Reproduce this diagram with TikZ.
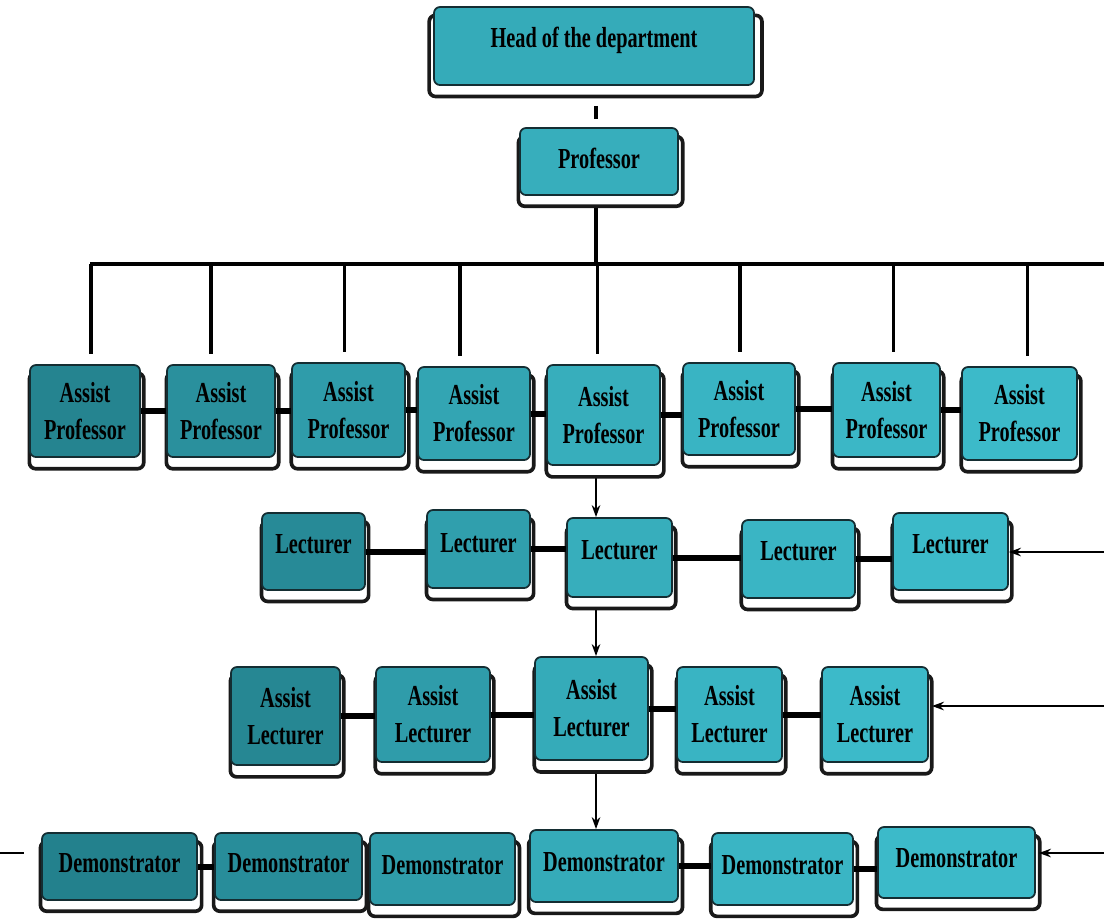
\documentclass[tikz,border=0pt]{standalone}
\usepackage{fontspec}
\newfontfamily\boxfont[FakeStretch=0.7]{Liberation Serif}
\usetikzlibrary{shadows,backgrounds,calc,arrows.meta}
\definecolor{tdark}{RGB}{34,126,138}
\definecolor{tlight}{RGB}{60,186,201}
\definecolor{edge}{RGB}{20,45,50}
\tikzset{
  orgbox/.style={draw=edge, line width=1pt, rounded corners=0.12cm, fill=tlight!#1!tdark,
    align=center, inner sep=0pt, text=black,
    font=\boxfont\bfseries\fontsize{16.5}{21}\selectfont,
    drop shadow={shadow xshift=0.03cm, shadow yshift=-0.19cm, shadow scale=1.04,
      fill=white, draw=black!90, line width=2pt, opacity=1}},
  link/.style={line width=3.4pt, black},
  drop/.style={line width=2pt, black},
  bus/.style={line width=2.8pt, black},
  arr/.style={line width=1.1pt, black, -{Stealth[length=0.24cm,width=0.17cm]}},
}
\newcommand\orgbox[7]{\node[orgbox=#6, minimum width={(#4-#2)*0.02cm}, minimum height={(#5-#3)*0.02cm}]
  (#1) at ({(#2+#4)/2},{(#3+#5)/2}) {#7};}
\newcommand\liftby[2]{\raisebox{#1}{#2}}
\begin{document}
\begin{tikzpicture}[x=0.02cm, y=-0.02cm]
\useasboundingbox (0,0) rectangle (1104,921);
% top
\orgbox{head}{434}{7}{754}{85}{75}{\liftby{0.34cm}{Head of the department}}
\orgbox{prof}{520}{128}{678}{195}{80}{\liftby{0.14cm}{Professor}}
% assistant professors
\orgbox{AP1}{30}{365}{140}{457}{10}{Assist\\Professor}
\orgbox{AP2}{167}{365}{275}{457}{30}{Assist\\Professor}
\orgbox{AP3}{292}{363}{405}{457}{50}{Assist\\Professor}
\orgbox{AP4}{418}{367}{530}{460}{65}{Assist\\Professor}
\orgbox{AP5}{547}{365}{660}{465}{80}{Assist\\Professor}
\orgbox{AP6}{683}{363}{795}{455}{90}{Assist\\Professor}
\orgbox{AP7}{833}{363}{940}{457}{95}{Assist\\Professor}
\orgbox{AP8}{962}{367}{1077}{460}{100}{Assist\\Professor}
% lecturers
\orgbox{L1}{262}{513}{365}{590}{20}{\liftby{0.32cm}{Lecturer}}
\orgbox{L2}{427}{510}{530}{588}{55}{\liftby{0.26cm}{Lecturer}}
\orgbox{L3}{567}{518}{672}{597}{80}{\liftby{0.3cm}{Lecturer}}
\orgbox{L4}{742}{520}{855}{598}{92}{\liftby{0.34cm}{Lecturer}}
\orgbox{L5}{893}{513}{1008}{590}{100}{\liftby{0.32cm}{Lecturer}}
% assistant lecturers
\orgbox{AL1}{231}{667}{340}{765}{15}{Assist\\Lecturer}
\orgbox{AL2}{376}{667}{490}{762}{50}{Assist\\Lecturer}
\orgbox{AL3}{535}{657}{648}{760}{75}{Assist\\Lecturer}
\orgbox{AL4}{677}{667}{782}{762}{90}{Assist\\Lecturer}
\orgbox{AL5}{822}{667}{928}{762}{100}{Assist\\Lecturer}
% demonstrators
\orgbox{D1}{42}{833}{197}{900}{5}{\liftby{0.16cm}{Demonstrator}}
\orgbox{D2}{215}{833}{362}{900}{25}{\liftby{0.16cm}{Demonstrator}}
\orgbox{D3}{370}{833}{515}{905}{50}{\liftby{0.16cm}{Demonstrator}}
\orgbox{D4}{530}{830}{678}{902}{75}{\liftby{0.16cm}{Demonstrator}}
\orgbox{D5}{712}{833}{853}{905}{92}{\liftby{0.16cm}{Demonstrator}}
\orgbox{D6}{878}{827}{1035}{898}{100}{\liftby{0.2cm}{Demonstrator}}
% coordinates
\coordinate (spine) at (596,0);
\coordinate (busL) at (90,264);
\coordinate (busR) at (1104,264);
\coordinate (rL) at (1104,552);
\coordinate (rAL) at (1104,706);
\coordinate (rD) at (1104,853);
\coordinate (lft) at (0,853);
\begin{scope}[on background layer]
\fill[white] (0,0) rectangle (1104,921);
\draw[drop] ($(spine |- head.south)+(0,20)$) -- ($(spine |- prof.north)+(0,-8)$);
\draw[drop] (spine |- prof.south) -- (spine |- busL);
\draw[arr] (spine |- AP5.south) -- (spine |- L3.north);
\draw[arr] (spine |- L3.south) -- (spine |- AL3.north);
\draw[arr] (spine |- AL3.south) -- (spine |- D4.north);
\end{scope}
\draw[bus] (busL) -- (busR);
\foreach \n/\dx in {AP1/6,AP2/-10,AP3/-4,AP4/-14,AP5/-6,AP6/1,AP7/7,AP8/8}{
  \draw[drop] ($(\n.north |- busL)+(\dx,0)$) -- ($(\n.north)+(\dx,-10)$);
}
% row links
\foreach \a/\b in {AP1/AP2,AP2/AP3,AP3/AP4,AP4/AP5,AP5/AP6,AP6/AP7,AP7/AP8,
                   L1/L2,L2/L3,L3/L4,L4/L5,
                   AL1/AL2,AL2/AL3,AL3/AL4,AL4/AL5,
                   D1/D2,D4/D5,D5/D6}{
  \draw[link] (\a.east) -- (\a.east -| \b.west);
}
% arrows from the right
\draw[arr] (rL) -- (rL -| L5.east);
\draw[arr] (rAL) -- ($(rAL -| AL5.east)+(3,0)$);
\draw[arr] (rD) -- ($(rD -| D6.east)+(3,0)$);
\draw[line width=1.5pt] (lft) -- ($(lft -| D1.west)+(-17,0)$);
\end{tikzpicture}
\end{document}
